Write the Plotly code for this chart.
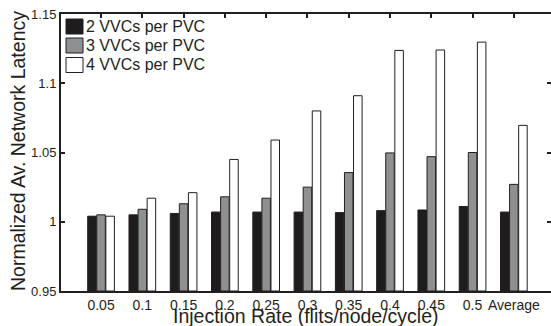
import plotly.graph_objects as go

categories = ["0.05", "0.1", "0.15", "0.2", "0.25", "0.3", "0.35", "0.4", "0.45", "0.5", "Average"]
vvc2 = [1.004, 1.005, 1.006, 1.007, 1.007, 1.007, 1.0066, 1.008, 1.0085, 1.011, 1.007]
vvc3 = [1.005, 1.009, 1.013, 1.018, 1.017, 1.025, 1.0355, 1.0497, 1.047, 1.050, 1.027]
vvc4 = [1.004, 1.017, 1.021, 1.045, 1.059, 1.080, 1.091, 1.1237, 1.124, 1.1297, 1.0696]
series_names = ["2 VVCs per PVC", "3 VVCs per PVC", "4 VVCs per PVC"]
colors = ["#1e1c1d", "#8f9092", "#ffffff"]
y_ticks = [0.95, 1.0, 1.05, 1.1, 1.15]
y_ticktext = ["0.95", "1", "1.05", "1.1", "1.15"]

W, H = 551, 326
# plot frame in window pixels: left 61, top 14, bottom 291, right 551
ML, MR, MT, MB = 61, 0, 14, 35
PW, PH = W - ML - MR, H - MT - MB
INK = "#231f20"


def px(xp):
    # window pixel x -> paper coordinate
    return (xp - ML) / PW


def py(yp):
    # window pixel y -> paper coordinate
    return (H - MB - yp) / PH


x = list(range(len(categories)))
base = 0.95

fig = go.Figure()
for name, vals, col in zip(series_names, [vvc2, vvc3, vvc4], colors):
    fig.add_trace(go.Bar(
        x=x, y=[v - base for v in vals], base=base, name=name,
        marker=dict(color=col, line=dict(color=INK, width=1)),
        showlegend=False,
    ))

# legend drawn manually to match the compact original
shapes = []
annotations = []
row_centers = [26.5, 45.5, 65]
for name, col, yc in zip(series_names, colors, row_centers):
    shapes.append(dict(type="rect", xref="paper", yref="paper",
                       x0=px(66), x1=px(83), y0=py(yc + 7.5), y1=py(yc - 7.5),
                       fillcolor=col, line=dict(color=INK, width=1)))
    annotations.append(dict(text=name, xref="paper", yref="paper",
                            x=px(84), y=py(yc), xanchor="left", yanchor="middle",
                            showarrow=False, font=dict(size=16, color=INK)))

annotations.append(dict(text="Injection Rate (flits/node/cycle)", xref="paper", yref="paper",
                        x=0.5, y=py(315.5), xanchor="center", yanchor="middle",
                        showarrow=False, font=dict(size=19.5, color=INK)))
annotations.append(dict(text="Normalized Av. Network Latency", xref="paper", yref="paper",
                        x=px(18), y=py(151), xanchor="center", yanchor="middle", textangle=-90,
                        showarrow=False, font=dict(size=19.5, color=INK)))

fig.update_layout(
    width=W, height=H,
    margin=dict(l=ML, r=MR, t=MT, b=MB),
    paper_bgcolor="white", plot_bgcolor="white",
    barmode="group", bargap=0.34, bargroupgap=0.06,
    font=dict(family="Liberation Sans, Arial, sans-serif", color=INK),
    showlegend=False,
    shapes=shapes, annotations=annotations,
    xaxis=dict(
        range=[-0.97, 10.9], tickmode="array", tickvals=x, ticktext=categories,
        ticks="inside", ticklen=4, tickwidth=2, tickcolor=INK,
        showline=True, linewidth=2, linecolor=INK, mirror="ticks",
        showgrid=False, zeroline=False, layer="below traces",
        tickfont=dict(size=14), automargin=False, ticklabeloverflow="allow",
    ),
    yaxis=dict(
        range=[0.95, 1.15], tickmode="array", tickvals=y_ticks, ticktext=y_ticktext,
        ticks="inside", ticklen=4, tickwidth=2, tickcolor=INK,
        showline=True, linewidth=2, linecolor=INK, mirror="ticks",
        showgrid=False, zeroline=False,
        tickfont=dict(size=13), automargin=False, ticklabeloverflow="allow",
    ),
)

# remove the browser's default 8px page margin so the figure sits at the window origin
fig.write_html(
    "out.html",
    config={"displayModeBar": False},
    post_script="document.body.style.margin='0';document.documentElement.style.overflow='hidden';",
)
